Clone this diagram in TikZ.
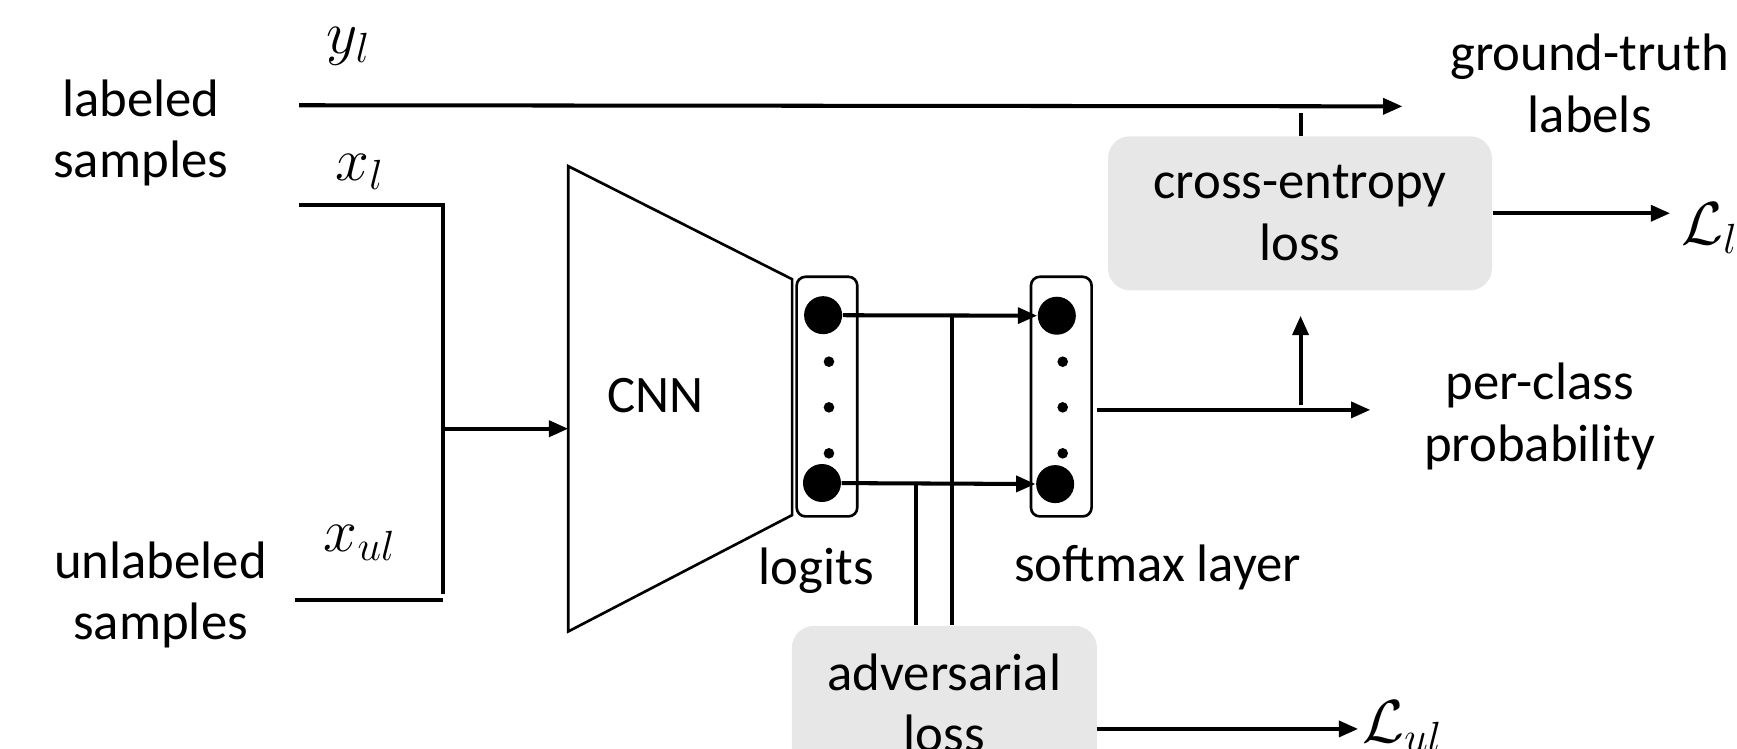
\documentclass[tikz,border=0pt]{standalone}
\usepackage{fontspec}
\setmainfont{Carlito}
\usetikzlibrary{arrows.meta}
\definecolor{lossgray}{RGB}{231,231,231}

\begin{document}
\begin{tikzpicture}[x=0.011078cm,y=-0.011078cm,
  txt/.style={align=center,font=\fontsize{15}{17.6}\selectfont},
  mth/.style={font=\fontsize{18}{20}\selectfont,inner sep=1pt},
  ln/.style={line width=1.15pt},
  arr/.style={line width=1.15pt,-{Triangle[length=5.5pt,width=4.5pt]}},
  vecbox/.style={draw,line width=0.75pt,rounded corners=2.5pt,minimum width=0.606cm,minimum height=2.396cm},
  bigdot/.style={circle,fill,inner sep=0pt,minimum size=0.38cm},
  lossbox/.style={fill=lossgray,rounded corners=0.22cm,align=center,minimum height=1.54cm,font=\fontsize{15}{17.6}\selectfont}]
\useasboundingbox (0,0) rectangle (1568,676);

% inputs
\node[txt] (lab) at (127,120) {labeled\\samples};
\node[txt] (unlab) at (145,537) {unlabeled\\samples};
\node[mth] (yl) at (315,42) {$y_l$};
\node[mth] (xl) at (325,155) {$x_l$};
\node[mth] (xul) at (325,490) {$x_{ul}$};

\coordinate (ylin) at (270,95);
\coordinate (ylout) at (1266,96);
\coordinate (xlin) at (270,185);
\coordinate (jtop) at (400,185);
\coordinate (jbot) at (400,536);
\coordinate (xulin) at (266,542);
\coordinate (xulend) at (400,542);
\coordinate (merge) at (400,387);
\coordinate (cnnin) at (513,387);

\draw[arr] (ylin) -- (ylout);
\draw[ln] (xlin) -- (jtop) -- (jbot);
\draw[ln] (xulin) -- (xulend);
\draw[arr] (merge) -- (cnnin);

% CNN
\draw[line width=0.75pt] (513,150) -- (715,252) -- (715,465) -- (513,570) -- cycle;
\node[txt] (cnn) at (592,357) {CNN};

% logits and softmax
\node[vecbox] (logits) at (746.5,358) {};
\node[vecbox] (smax) at (958,358) {};
\node[txt] (logitlbl) at (737,515) {logits};
\node[txt] (smaxlbl) at (1045,512) {softmax layer};

\node[bigdot] (l1) at (743,284.5) {};
\node[bigdot] (l2) at (742,436) {};
\node[bigdot] (s1) at (954,285) {};
\node[bigdot] (s2) at (952.5,437) {};
\foreach \y in {326.5,367.7,409.2}{
  \fill (748.3,\y) circle (0.053cm);
  \fill (959.3,\y) circle (0.053cm);
}

\draw[arr] (l1) -- (s1);
\draw[arr] (l2) -- (s2);

% losses
\node[lossbox,minimum width=3.84cm] (ce) at (1173.5,192.5) {cross-entropy\\loss};
\node[lossbox,minimum width=3.05cm] (adv) at (852.5,634.5) {adversarial\\loss};
\node[txt] (gt) at (1435,75) {ground-truth\\labels};
\node[txt] (pc) at (1390,376) {per-class\\probability};
\node[mth,anchor=base west] (Ll) at (1514,221) {$\mathcal{L}_l$};
\node[mth,anchor=base west] (Lul) at (1226,670) {$\mathcal{L}_{ul}$};

\coordinate (tapA) at (859,284.5);
\coordinate (tapB) at (826.6,436);
\draw[ln] (tapA) -- (tapA |- adv.north);
\draw[ln] (tapB) -- (tapB |- adv.north);

\coordinate (tick) at (1174,102);
\draw[ln] (tick) -- (tick |- ce.north);

\coordinate (smout) at (990,370);
\coordinate (pcend) at (1237,370);
\draw[arr] (smout) -- (pcend);
\coordinate (upfrom) at (1174,366);
\coordinate (upto) at (1174,285);
\draw[arr] (upfrom) -- (upto);

\draw[arr] (ce.east) -- ([xshift=-2pt]ce.east -| Ll.west);
\coordinate (advout) at (990,658);
\draw[arr] (advout) -- (advout -| Lul.west);
\end{tikzpicture}
\end{document}
